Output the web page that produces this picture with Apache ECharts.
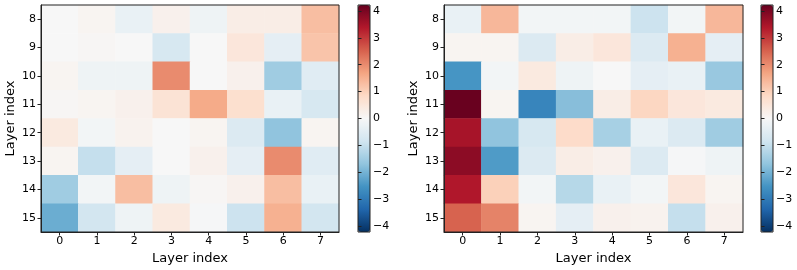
<!DOCTYPE html>
<html><head><meta charset="utf-8">
<script src="https://cdn.jsdelivr.net/npm/echarts@6/dist/echarts.min.js"></script>
<style>html,body{margin:0;padding:0;background:#fff}#c{width:797px;height:270px}</style>
</head><body><div id="c"></div>
<script>
const xCats = ['0','1','2','3','4','5','6','7'];
const yCats = ['8','9','10','11','12','13','14','15'];
const cbTicks = [-4,-3,-2,-1,0,1,2,3,4];
const vMin = -4.22, vMax = 4.22;
// rows = layers 8..15, cols = 0..7
const leftVals = [
  [ 0.0, 0.1, -0.3, 0.2, -0.2, 0.3, 0.3, 1.3],
  [ 0.0, 0.05, 0.0, -0.7, 0.0, 0.5, -0.4, 1.2],
  [ 0.1, -0.2, -0.2, 2.0, 0.0, 0.2, -1.5, -0.5],
  [ 0.05, 0.1, 0.2, 0.6, 1.6, 0.7, -0.3, -0.7],
  [ 0.4, -0.1, 0.15, 0.0, 0.1, -0.6, -1.7, 0.1],
  [ 0.1, -1.0, -0.4, 0.0, 0.2, -0.4, 2.0, -0.5],
  [-1.5, -0.1, 1.3, -0.2, 0.05, 0.2, 1.3, -0.3],
  [-2.1, -0.8, -0.2, 0.4, -0.05, -0.9, 1.5, -0.8]
];
const rightVals = [
  [-0.3, 1.4, -0.1, -0.1, -0.1, -0.9, -0.1, 1.4],
  [ 0.1, 0.1, -0.6, 0.3, 0.5, -0.6, 1.5, -0.4],
  [-2.5, -0.1, 0.4, -0.2, 0.0, -0.4, -0.3, -1.6],
  [ 4.2, 0.1, -2.8, -1.8, 0.3, 0.9, 0.5, 0.4],
  [ 3.5, -1.7, -0.7, 0.8, -1.4, -0.3, -0.6, -1.5],
  [ 3.8, -2.4, -0.6, 0.3, 0.2, -0.6, -0.05, -0.2],
  [ 3.4, 1.0, -0.1, -1.2, -0.3, -0.1, 0.5, 0.1],
  [ 2.5, 2.1, 0.1, -0.4, 0.2, 0.15, -1.0, 0.2]
];
const rdbu_r = ['#053061','#2166ac','#4393c3','#92c5de','#d1e5f0','#f7f7f7','#fddbc7','#f4a582','#d6604d','#b2182b','#67001f'];

function toData(m){const d=[];m.forEach((row,yi)=>row.forEach((v,xi)=>d.push([xi,yi,v])));return d;}
const font = 'DejaVu Sans';
const fmt = v => (v<0?'\u2212'+Math.abs(v):String(v));

const grids = [
  {left:41, top:5, width:298, height:227, show:true, borderColor:'#222', borderWidth:1, z:10, backgroundColor:'transparent'},
  {left:444, top:5, width:299, height:227, show:true, borderColor:'#222', borderWidth:1, z:10, backgroundColor:'transparent'},
  {left:358, top:5, width:12, height:227, show:true, borderColor:'#222', borderWidth:1, z:10, backgroundColor:'transparent'},
  {left:761, top:5, width:12, height:227, show:true, borderColor:'#222', borderWidth:1, z:10, backgroundColor:'transparent'}
];
function hx(i){return {type:'category', gridIndex:i, data:xCats, name:'Layer index', nameLocation:'middle', nameGap:17,
  nameTextStyle:{fontFamily:font,fontSize:13,color:'#000'},
  axisLine:{show:true,lineStyle:{color:'#222',width:1}}, axisTick:{show:true,alignWithLabel:true,length:3.5,lineStyle:{color:'#222'}},
  axisLabel:{fontFamily:font,fontSize:11,color:'#000',margin:4}, splitLine:{show:false}, splitArea:{show:false}, z:10};}
function hy(i){return {type:'category', gridIndex:i, data:yCats, inverse:true, name:'Layer index', nameLocation:'middle', nameGap:24,
  nameTextStyle:{fontFamily:font,fontSize:13,color:'#000'},
  axisLine:{show:true,lineStyle:{color:'#222',width:1}}, axisTick:{show:true,alignWithLabel:true,length:3.5,lineStyle:{color:'#222'}},
  axisLabel:{fontFamily:font,fontSize:11,color:'#000',margin:5}, splitLine:{show:false}, splitArea:{show:false}, z:10};}
function cx(i){return {type:'value', gridIndex:i, min:0, max:1, show:false};}
function cy(i){return {type:'value', gridIndex:i, min:vMin, max:vMax, position:'right',
  axisLine:{show:false}, splitLine:{show:false},
  axisTick:{show:true,inside:false,length:3.5,lineStyle:{color:'#222'},customValues:cbTicks},
  axisLabel:{fontFamily:font,fontSize:11,color:'#000',margin:3,customValues:cbTicks,formatter:fmt,showMinLabel:true,showMaxLabel:true}, z:10};}

const chart = echarts.init(document.getElementById('c'), null, {renderer:'canvas'});
chart.setOption({
  animation:false,
  backgroundColor:'#fff',
  grid: grids,
  xAxis:[hx(0),hx(1),cx(2),cx(3)],
  yAxis:[hy(0),hy(1),cy(2),cy(3)],
  visualMap:[
    {type:'continuous', seriesIndex:0, min:vMin, max:vMax, inRange:{color:rdbu_r}, calculable:false, hoverLink:false,
     left:358, top:5, itemWidth:12, itemHeight:227, padding:0, text:null, showLabel:false},
    {type:'continuous', seriesIndex:1, min:vMin, max:vMax, inRange:{color:rdbu_r}, calculable:false, hoverLink:false,
     left:761, top:5, itemWidth:12, itemHeight:227, padding:0, text:null, showLabel:false}
  ],
  series:[
    {type:'heatmap', xAxisIndex:0, yAxisIndex:0, data:toData(leftVals), itemStyle:{borderWidth:0}, emphasis:{disabled:true}},
    {type:'heatmap', xAxisIndex:1, yAxisIndex:1, data:toData(rightVals), itemStyle:{borderWidth:0}, emphasis:{disabled:true}}
  ]
});
</script></body></html>
